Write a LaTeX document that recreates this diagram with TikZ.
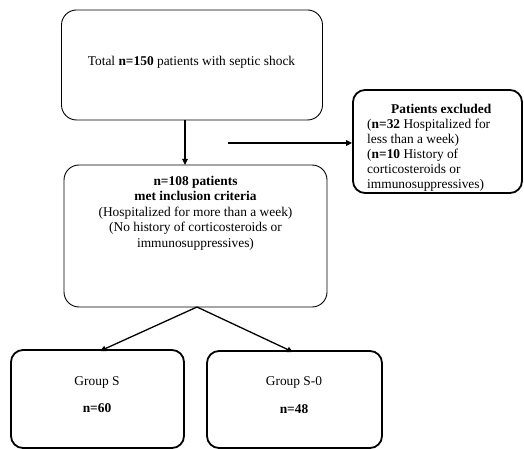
\documentclass[tikz,border=0pt]{standalone}
\usepackage{fontspec}
\setmainfont{Liberation Serif}
\usetikzlibrary{arrows.meta}
\begin{document}
\begin{tikzpicture}[x=1pt,y=-1pt,
  thinbox/.style={draw,line width=0.9pt,rounded corners=15pt,inner sep=0pt},
  thickbox/.style={draw,line width=1.8pt,rounded corners=12pt,inner sep=0pt},
  txt/.style={font=\fontsize{13.4}{15.5}\selectfont,align=center,inner sep=0pt},
  conn/.style={line width=1.3pt,-{Triangle[length=6pt,width=5.5pt]}}]
\useasboundingbox (0,0) rectangle (524,449);
\node[thinbox,minimum width=261pt,minimum height=110pt] (total) at (192,65) {};
\node[txt] (totaltxt) at (191.5,62) {Total \textbf{n=150} patients with septic shock};
\node[thinbox,minimum width=263pt,minimum height=142pt] (incl) at (195.5,236) {};
\node[txt,anchor=north] (incltxt) at (195.5,176) {\textbf{n=108 patients}\\\textbf{met inclusion criteria}\\(Hospitalized for more than a week)\\(No history of corticosteroids or\\immunosuppressives)};
\node[thickbox,minimum width=169pt,minimum height=103pt] (excl) at (437.5,141.5) {};
\node[txt,align=left,anchor=north west,font=\fontsize{13.4}{15}\selectfont] (excltxt) at (367,104) {\hspace*{24pt}\textbf{Patients excluded}\\(\textbf{n=32} Hospitalized for\\less than a week)\\(\textbf{n=10} History of\\corticosteroids or\\immunosuppressives)};
\node[thickbox,minimum width=173pt,minimum height=98pt] (gs) at (97.5,399) {};
\node[txt] (gstxt) at (97,382) {Group S};
\node[txt] (gsn) at (97,408) {\textbf{n=60}};
\node[thickbox,minimum width=175pt,minimum height=97pt] (gs0) at (294.5,399.5) {};
\node[txt] (gs0txt) at (294,382) {Group S-0};
\node[txt] (gs0n) at (294,409) {\textbf{n=48}};
\coordinate (a1) at (185,120);
\coordinate (a2) at (185,165);
\draw[conn] (a1) -- (a2);
\coordinate (e1) at (228,143);
\draw[conn] (e1) -- (excl.west |- e1);
\coordinate (b) at (197,307);
\draw[conn] (b) -- (100,351);
\draw[conn] (b) -- (293,352);
\end{tikzpicture}
\end{document}
